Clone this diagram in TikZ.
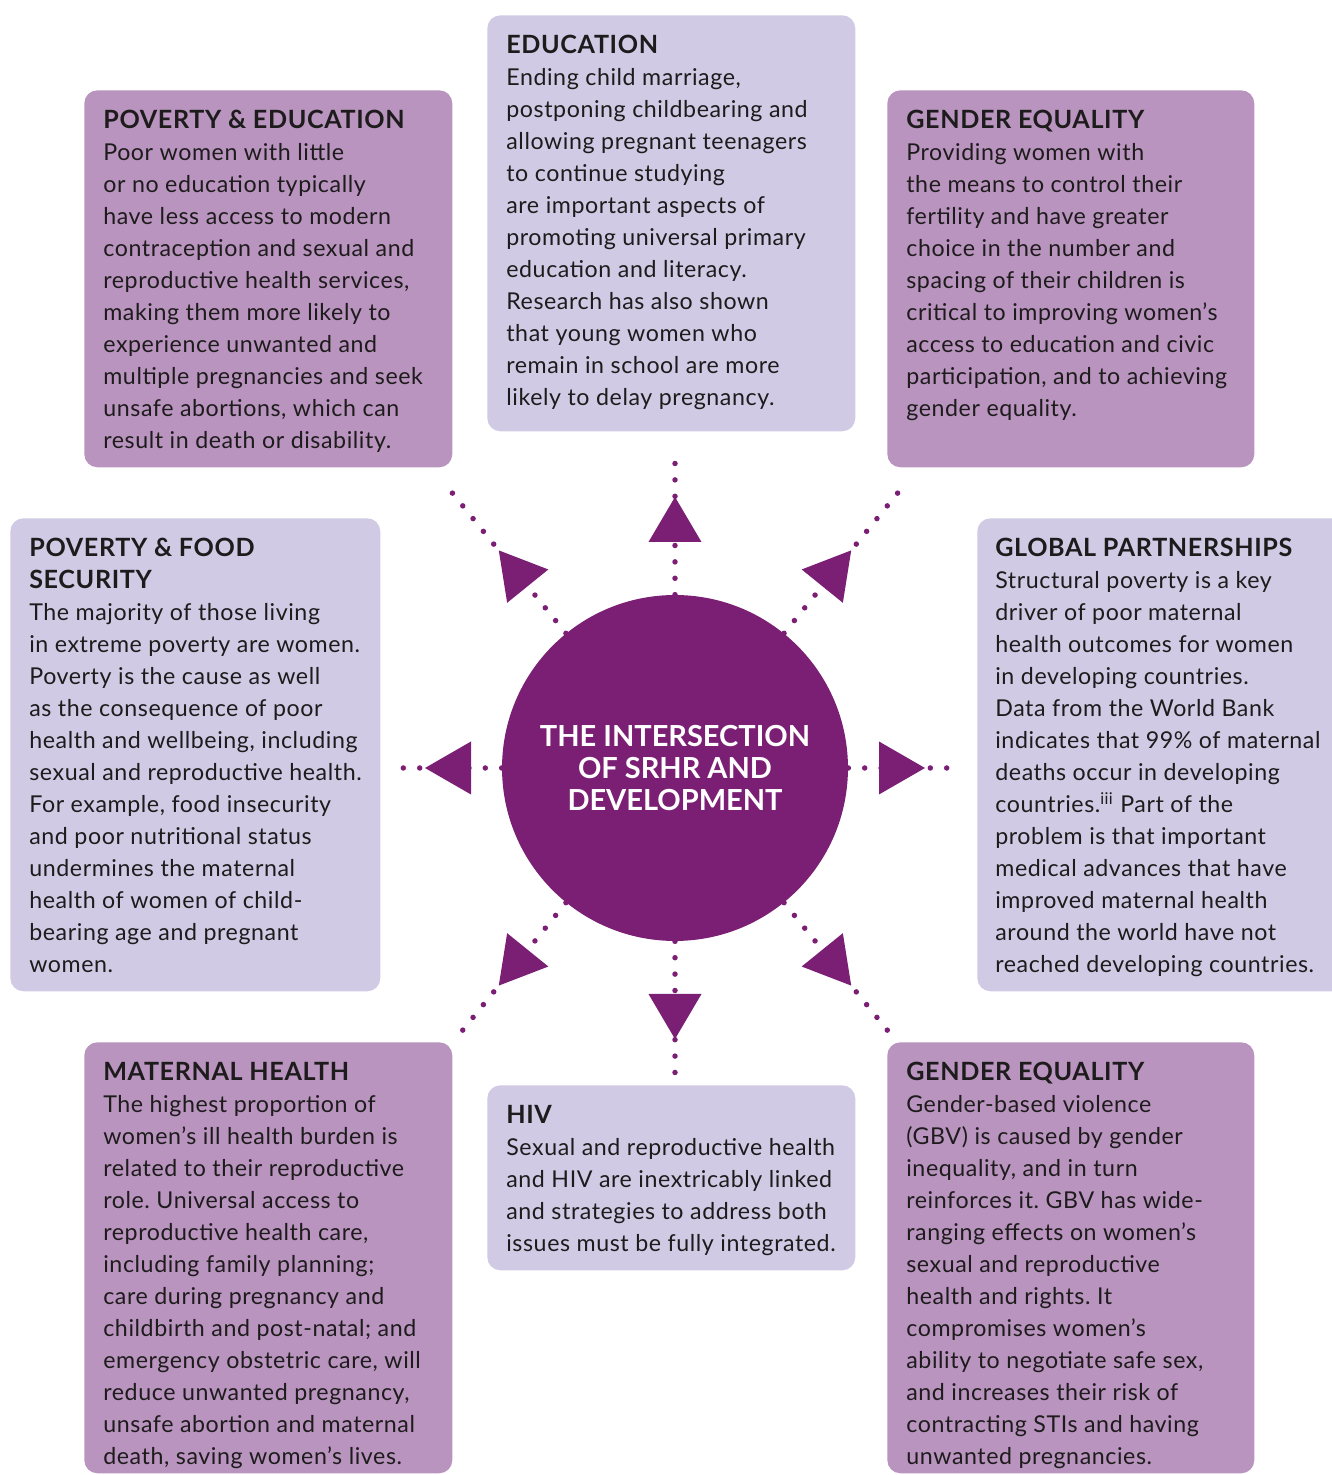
\documentclass[tikz,border=0pt]{standalone}
\usepackage{fontspec}
\setmainfont{Lato}[LetterSpace=2.5]
\newfontfamily\hubfont{Lato}
\usetikzlibrary{calc}
\frenchspacing

\definecolor{hubpurple}{RGB}{123,31,116}
\definecolor{darkmauve}{RGB}{184,148,190}
\definecolor{palelilac}{RGB}{208,202,228}
\definecolor{inkgrey}{RGB}{30,27,28}
\newcommand{\boxhead}[1]{{\fontsize{14.3}{18.2}\selectfont\bfseries #1}}

\begin{document}
\begin{tikzpicture}[x=0.02cm, y=0.02cm,
    darkbox/.style={fill=darkmauve, rounded corners=0.26cm, anchor=north west, inner sep=0pt},
    lightbox/.style={fill=palelilac, rounded corners=0.26cm, anchor=north west, inner sep=0pt},
    body/.style={anchor=north west, inner sep=0pt, align=left, text=inkgrey, font=\fontsize{13.2}{18.2}\selectfont\frenchspacing},
    hub/.style={circle, fill=hubpurple, minimum size=6.92cm, inner sep=0pt, text=white, align=center, font=\hubfont\fontsize{16.5}{18.2}\selectfont\bfseries},
    dotline/.style={hubpurple, line width=0.11cm, line cap=round, dash pattern=on 0pt off 0.328cm}]
  \useasboundingbox (0,0) rectangle (1332,1475);
  \clip (0,0) rectangle (1332,1475);

  % boxes
  \node[darkbox, minimum width=7.36cm, minimum height=7.54cm] (poved box) at (84,1385) {};
  \node[lightbox, minimum width=7.36cm, minimum height=8.32cm] (edu box) at (487,1460) {};
  \node[darkbox, minimum width=7.34cm, minimum height=7.54cm] (gender box) at (887,1385) {};
  \node[lightbox, minimum width=7.40cm, minimum height=9.46cm] (food box) at (10,957) {};
  \node[lightbox, minimum width=7.40cm, minimum height=9.46cm] (global box) at (977,957) {};
  \node[darkbox, minimum width=7.36cm, minimum height=8.62cm] (maternal box) at (84,433) {};
  \node[lightbox, minimum width=7.36cm, minimum height=3.70cm] (hiv box) at (487,390) {};
  \node[darkbox, minimum width=7.34cm, minimum height=8.62cm] (gbv box) at (887,433) {};

  % hub and rays
  \node[hub] (hub) at (675,707) {THE INTERSECTION\\OF SRHR AND\\DEVELOPMENT};
  \foreach \ang/\rend in {90/311, 270/309, 0/272, 180/277, 51/367, 129/366, 231/352, 309/352} {
    \coordinate (end \ang) at ($(hub.center)+(\ang:\rend)$);
    \draw[dotline] (hub) -- (end \ang);
  }
  \foreach \ang/\rbase/\rtip in {90/226/271, 270/226/271, 0/204/250, 180/204/250,
      51/234/280, 129/234/280, 231/234/280, 309/234/280}
    \fill[hubpurple, shift={(hub.center)}, rotate=\ang] (\rtip,0) -- (\rbase,26.5) -- (\rbase,-26.5) -- cycle;

  % texts
  \node[body] (poved text) at ([shift={(19,-20)}]poved box.north west) {\boxhead{POVERTY \& EDUCATION}\\
    Poor women with little\\ or no education typically\\ have less access to modern\\
    contraception and sexual and\\ reproductive health services,\\ making them more likely to\\
    experience unwanted and\\ multiple pregnancies and seek\\ unsafe abortions, which can\\
    result in death or disability.};
  \node[body] (edu text) at ([shift={(19,-20)}]edu box.north west) {\boxhead{EDUCATION}\\
    Ending child marriage,\\ postponing childbearing and\\ allowing pregnant teenagers\\
    to continue studying\\ are important aspects of\\ promoting universal primary\\
    education and literacy.\\ Research has also shown\\ that young women who\\
    remain in school are more\\ likely to delay pregnancy.};
  \node[body] (gender text) at ([shift={(19,-20)}]gender box.north west) {\boxhead{GENDER EQUALITY}\\
    Providing women with\\ the means to control their\\ fertility and have greater\\
    choice in the number and\\ spacing of their children is\\ critical to improving women’s\\
    access to education and civic\\ participation, and to achieving\\ gender equality.};
  \node[body] (food text) at ([shift={(19,-20)}]food box.north west) {\boxhead{POVERTY \& FOOD}\\ \boxhead{SECURITY}\\
    The majority of those living\\ in extreme poverty are women.\\ Poverty is the cause as well\\
    as the consequence of poor\\ health and wellbeing, including\\ sexual and reproductive health.\\
    For example, food insecurity\\ and poor nutritional status\\ undermines the maternal\\
    health of women of child-\\ bearing age and pregnant\\ women.};
  \node[body] (global text) at ([shift={(18,-20)}]global box.north west) {\boxhead{GLOBAL PARTNERSHIPS}\\
    Structural poverty is a key\\ driver of poor maternal\\ health outcomes for women\\
    in developing countries.\\ Data from the World Bank\\ indicates that 99\% of maternal\\
    deaths occur in developing\\ countries.\textsuperscript{iii} Part of the\\ problem is that important\\
    medical advances that have\\ improved maternal health\\ around the world have not\\
    reached developing countries.};
  \node[body] (maternal text) at ([shift={(19,-20)}]maternal box.north west) {\boxhead{MATERNAL HEALTH}\\
    The highest proportion of\\ women’s ill health burden is\\ related to their reproductive\\
    role. Universal access to\\ reproductive health care,\\ including family planning;\\
    care during pregnancy and\\ childbirth and post-natal; and\\ emergency obstetric care, will\\
    reduce unwanted pregnancy,\\ unsafe abortion and maternal\\ death, saving women’s lives.};
  \node[body] (hiv text) at ([shift={(19,-20)}]hiv box.north west) {\boxhead{HIV}\\
    Sexual and reproductive health\\ and HIV are inextricably linked\\ and strategies to address both\\
    issues must be fully integrated.};
  \node[body] (gbv text) at ([shift={(19,-20)}]gbv box.north west) {\boxhead{GENDER EQUALITY}\\
    Gender-based violence\\ (GBV) is caused by gender\\ inequality, and in turn\\
    reinforces it. GBV has wide-\\ ranging effects on women’s\\ sexual and reproductive\\
    health and rights. It\\ compromises women’s\\ ability to negotiate safe sex,\\
    and increases their risk of\\ contracting STIs and having\\ unwanted pregnancies.};
\end{tikzpicture}
\end{document}
